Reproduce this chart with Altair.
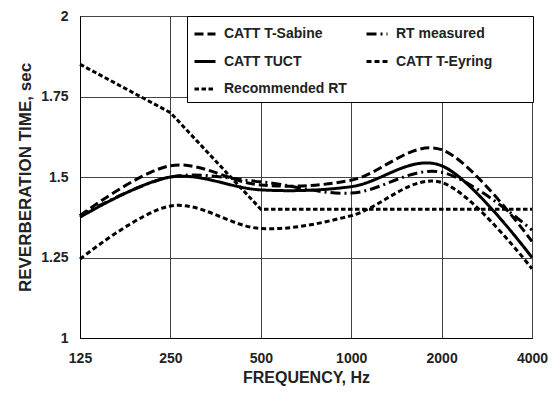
import altair as alt
import pandas as pd

freqs = ["125", "250", "500", "1000", "2000", "4000"]
# legend fills column by column: (Sabine, TUCT, Recommended) | (measured, Eyring)
series_names = ["CATT T-Sabine", "CATT TUCT", "Recommended RT", "RT measured", "CATT T-Eyring"]
sabine = [1.38, 1.535, 1.475, 1.49, 1.585, 1.30]
tuct = [1.375, 1.50, 1.46, 1.47, 1.535, 1.25]
recommended = [1.85, 1.70, 1.40, 1.40, 1.40, 1.40]
measured = [1.38, 1.50, 1.485, 1.45, 1.515, 1.335]
eyring = [1.245, 1.41, 1.34, 1.38, 1.483, 1.215]
y_ticks = [1, 1.25, 1.5, 1.75, 2]

dashes = [[9, 4], [1, 0], [4.5, 2.5], [10, 4, 2, 4], [5, 3]]
widths = [3, 3, 2, 2.5, 3]

rows = []
for name, vals in zip(series_names, [sabine, tuct, recommended, measured, eyring]):
    for i, (f, v) in enumerate(zip(freqs, vals)):
        rows.append({"freq": f, "rt": v, "series": name, "idx": i})
df = pd.DataFrame(rows)

FONT = "Liberation Sans"

legend = alt.Legend(
    orient="none", legendX=107, legendY=0, columns=2,
    title="\u00a0", titleOrient="right", titlePadding=35, titleFontSize=14,
    symbolType="stroke", symbolSize=441, symbolStrokeColor="black",
    labelFont=FONT, labelFontSize=14, labelFontWeight="bold", labelColor="#222",
    labelOffset=7, fillColor="white", strokeColor="black", padding=6,
    rowPadding=8.5, columnPadding=13, labelLimit=300,
)

base = alt.Chart(df).encode(
    x=alt.X("freq:O", sort=freqs,
            scale=alt.Scale(type="point", domain=freqs, padding=0),
            axis=alt.Axis(title="FREQUENCY, Hz", labelAngle=0, labelFont=FONT, labelFontSize=14,
                          labelFontWeight="bold", labelColor="#222", ticks=False, tickSize=0,
                          labelPadding=13, domainColor="black", grid=True, gridColor="#444",
                          titleFont=FONT, titleFontSize=16, titleFontWeight="bold", titleColor="#222",
                          titleY=39, titleBaseline="middle")),
    y=alt.Y("rt:Q", scale=alt.Scale(domain=[1, 2], nice=False, zero=False),
            axis=alt.Axis(title="REVERBERATION TIME, sec", values=y_ticks,
                          labelExpr="toString(datum.value)",
                          labelFont=FONT, labelFontSize=14, labelFontWeight="bold", labelColor="#222",
                          ticks=False, tickSize=0, labelPadding=12, domainColor="black",
                          grid=True, gridColor="#444",
                          titleFont=FONT, titleFontSize=17, titleFontWeight="bold", titleColor="#222",
                          titleX=-55, titleBaseline="middle")),
    strokeDash=alt.StrokeDash("series:N", scale=alt.Scale(domain=series_names, range=dashes), legend=legend),
    strokeWidth=alt.StrokeWidth("series:N", scale=alt.Scale(domain=series_names, range=widths), legend=legend),
    order=alt.Order("idx:Q"),
)

smooth = base.transform_filter(alt.datum.series != "Recommended RT").mark_line(
    interpolate="cardinal", tension=0, color="black")
rec = base.transform_filter(alt.datum.series == "Recommended RT").mark_line(
    interpolate="linear", color="black")

chart = alt.layer(rec, smooth).properties(
    width=452, height=322,
    autosize=alt.AutoSizeParams(type="none"),
    padding={"left": 72, "top": 8, "right": 16, "bottom": 48},
    background="white",
).configure_view(stroke="black", strokeWidth=1)

chart.save("out.html", embed_options={"renderer": "svg", "actions": False})
